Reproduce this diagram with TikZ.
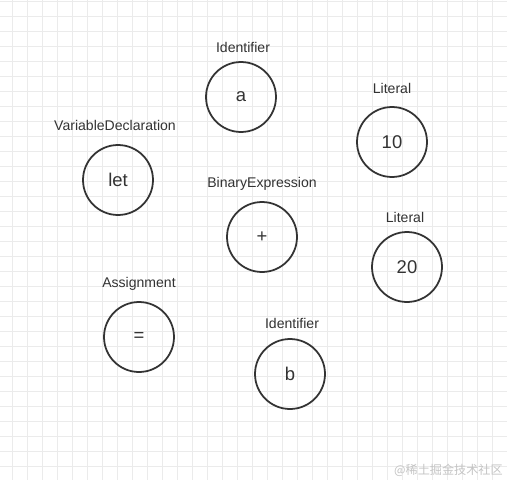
\documentclass[tikz,border=0pt]{standalone}
\usepackage{fontspec}
\setmainfont{Liberation Sans}
\newfontfamily\cjkfont{Noto Sans CJK SC}
\definecolor{inkgray}{HTML}{333333}
\definecolor{gridgray}{HTML}{EBEBEB}
\definecolor{wmgray}{HTML}{C4C4C4}
\begin{document}
\begin{tikzpicture}[x=0.02cm, y=-0.02cm,
    ast/.style={circle, draw=inkgray, line width=1pt, minimum size=1.4cm, inner sep=0pt,
      text=inkgray, font=\fontsize{10.5}{12}\selectfont},
    tag/.style={anchor=base, inner sep=0pt, text=inkgray, font=\fontsize{8}{9}\selectfont},
    watermark/.style={inner sep=0pt, text=wmgray, font=\cjkfont\fontsize{6.9}{8}\selectfont}]
    \fill[white] (0, 0) rectangle (507, 480);
    \useasboundingbox (0, 0) rectangle (507, 480);
    % grid paper
    \foreach \x in {12.7, 27.7, ..., 507} {
      \draw[gridgray, line width=0.4pt] (\x, 0) -- (\x, 480);
    }
    \foreach \y in {1.7, 16.7, ..., 480} {
      \draw[gridgray, line width=0.4pt] (0, \y) -- (507, \y);
    }
    % syntax tree nodes, each with its type above
    \foreach \n/\x/\y/\t/\lx/\ly/\l in {decl/118/180/let/115/130/VariableDeclaration,
        ida/241/97/a/243/52/Identifier, lit10/392/142/10/392/93/Literal,
        binexp/262/237/+/262/187/BinaryExpression, lit20/407/267/20/405/222/Literal,
        assign/139/337/=/139/287/Assignment, idb/290/374/b/292/328/Identifier} {
      \node[ast] (\n) at (\x, \y) {\t};
      \node[tag] (\n-tag) at (\lx, \ly) {\l};
    }
    \node[watermark, anchor=east] (wm) at (503, 470) {@稀土掘金技术社区};
  \end{tikzpicture}
\end{document}
